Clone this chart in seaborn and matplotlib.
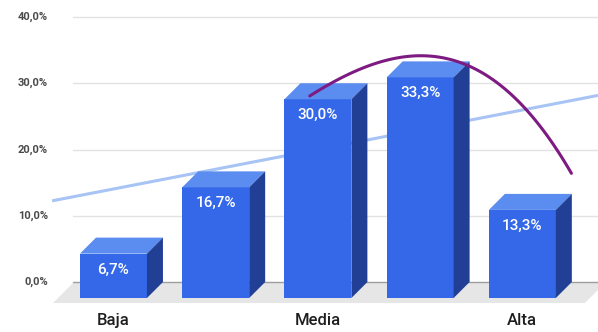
import numpy as np
import pandas as pd
import seaborn as sns
from matplotlib import pyplot as plt
from matplotlib import transforms as mtrans
from matplotlib.patches import Polygon

# data
LEVELS = [1, 2, 3, 4, 5]
TICK_LABELS = ["Baja", "", "Media", "", "Alta"]
SHARES = [6.7, 16.7, 30.0, 33.3, 13.3]
Y_TICKS = [0, 10, 20, 30, 40]

# colours
FRONT = "#3468e8"
TOP = "#5b8cf0"
SIDE = "#213f94"
TREND_LIN = "#a7c4f5"
TREND_POLY = "#7d1b82"

# layout (front plane data coords, depth in pixels)
XLIM = (-1.11, 4.74)
YLIM = (-5.13, 44.98)
DEPTH_PX = 16
POLY_X = (1.92, 4.48)    # where the polynomial trendline is drawn
POLY_T = (-0.17, 1.91)   # span of the fit that it covers

sns.set_theme(style="white")
plt.rcParams['font.family'] = ['Roboto', 'DejaVu Sans']

fig = plt.figure(figsize=(5.98, 3.32), dpi=100, facecolor="white")
ax = fig.add_axes([0, 0, 1, 1])

df = pd.DataFrame({"level": LEVELS, "share": SHARES})
sns.barplot(data=df, x="level", y="share", color=FRONT, width=0.655,
            saturation=1, linewidth=0, ax=ax, zorder=3)
ax.set_xlim(XLIM)
ax.set_ylim(YLIM)
ax.set_axis_off()

px_x = 598 / (XLIM[1] - XLIM[0])
px_y = 332 / (YLIM[1] - YLIM[0])
dx = DEPTH_PX / px_x
dy = DEPTH_PX / px_y

back_y = mtrans.offset_copy(ax.transData, fig=fig, x=0, y=DEPTH_PX, units='dots')

# floor
fl_front = -5 / px_y
x0f, x1f = (53 - 113.5) / px_x, (585 - 113.5) / px_x
floor = Polygon([(x0f, fl_front), (x1f, fl_front),
                 (x1f + 21 / px_x, dy), (x0f + 21 / px_x, dy)],
                closed=True, facecolor="#e6e6e6", edgecolor="none", zorder=1)
ax.add_patch(floor)

# gridlines and y labels on the back wall
grid_x0 = (73 - 113.5) / px_x
for v in Y_TICKS:
    ax.plot([grid_x0, XLIM[1]], [v, v], transform=back_y,
            color="#9e9e9e" if v == 0 else "#e2e2e2", lw=1.0, zorder=1.2)
    ax.text((48 - 113.5) / px_x, v, f"{v:.1f}%".replace(".", ","),
            transform=back_y, ha="right", va="center", fontsize=8,
            fontweight="bold", color="#4a4a4a")

# linear trendline
pos = np.arange(len(SHARES))
lin = np.polyfit(pos, SHARES, 1)
xl = np.array([-0.6, XLIM[1]])
ax.plot(xl, np.polyval(lin, xl), transform=back_y, color=TREND_LIN,
        lw=2.2, zorder=2, solid_capstyle="butt")

# 3D faces of bars
for bar in ax.patches[:]:
    if bar is floor:
        continue
    x0 = bar.get_x()
    x1 = x0 + bar.get_width()
    h = bar.get_height()
    ax.add_patch(Polygon([(x0, h), (x0 + dx, h + dy), (x1 + dx, h + dy), (x1, h)],
                         closed=True, facecolor=TOP, edgecolor="none", zorder=3))
    ax.add_patch(Polygon([(x1, 0), (x1, h), (x1 + dx, h + dy), (x1 + dx, dy)],
                         closed=True, facecolor=SIDE, edgecolor="none", zorder=3))
    lab = mtrans.offset_copy(ax.transData, fig=fig, x=0, y=-16, units='dots')
    ax.text(x0 + bar.get_width() / 2, h, f"{h:.1f}%".replace(".", ","),
            transform=lab, ha="center", va="center", color="white",
            fontsize=11, fontweight="medium", zorder=6)

# polynomial trendline
poly = np.polyfit(pos, SHARES, 3)
t = np.linspace(POLY_T[0], POLY_T[1], 100)
xp = np.linspace(POLY_X[0], POLY_X[1], 100)
ax.plot(xp, np.polyval(poly, 2 + t), transform=back_y, color=TREND_POLY,
        lw=2.2, zorder=5)

# category labels
for p, lbl in zip(pos, TICK_LABELS):
    ax.text(p, -22 / px_y, lbl, ha="center", va="center", fontsize=12,
            fontweight="medium", color="#1e1e1e")

fig.savefig("out.png", dpi=100, facecolor="white")
